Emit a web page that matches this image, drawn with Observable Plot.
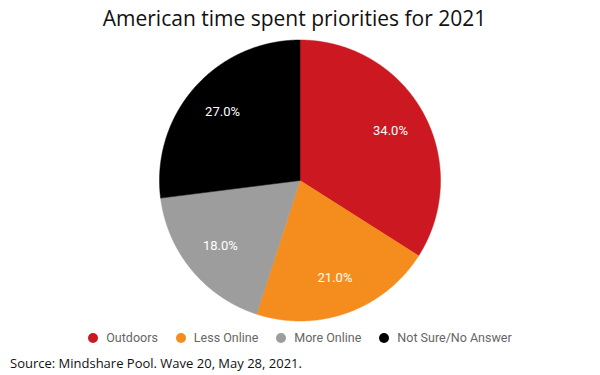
<!DOCTYPE html>
<html>
<head>
<meta charset="utf-8">
<script src="https://cdn.jsdelivr.net/npm/d3@7"></script>
<script src="https://cdn.jsdelivr.net/npm/@observablehq/plot@0.6"></script>
<style>
  html, body { margin: 0; padding: 0; background: #fff; }
  body { width: 600px; height: 375px; position: relative; overflow: hidden; }
  #title { position: absolute; left: 0; top: 8px; width: 589px; text-align: center;
    font-family: "Open Sans", sans-serif; font-size: 21px; line-height: 21px; color: #111; }
  #chart { position: absolute; left: 0; top: 36px; }
  #legend { position: absolute; left: 0; top: 330px; width: 600px; height: 16px; display: flex;
    justify-content: center; align-items: center; font-family: Roboto, sans-serif; font-size: 12.5px;
    line-height: 16px; color: #666; }
  #legend .item { display: flex; align-items: center; margin: 0 9px; }
  #legend .dot { width: 10px; height: 10px; border-radius: 50%; margin-right: 8px; }
  #source { position: absolute; left: 10px; top: 357px; font-family: "Open Sans", sans-serif;
    font-size: 13px; line-height: 13px; color: #111; white-space: nowrap; }
</style>
</head>
<body>
<div id="title">American time spent priorities for 2021</div>
<div id="chart"></div>
<div id="legend"></div>
<div id="source">Source: Mindshare Pool. Wave 20, May 28, 2021.</div>
<script>
const categories = ["Outdoors", "Less Online", "More Online", "Not Sure/No Answer"];
const values = [34.0, 21.0, 18.0, 27.0];
const colors = ["#cc1820", "#f48d1e", "#9d9d9d", "#000000"];

// Build slice polygons (unit-circle coordinates) from the data via d3.pie
const pie = d3.pie().sort(null).value(d => d.value)(categories.map((c, i) => ({category: c, value: values[i]})));
const slicePoints = [];
const labels = [];
for (const s of pie) {
  const cat = s.data.category;
  slicePoints.push({category: cat, x: 0, y: 0});
  const n = Math.max(2, Math.ceil((s.endAngle - s.startAngle) / 0.005));
  for (let k = 0; k <= n; k++) {
    const a = s.startAngle + (s.endAngle - s.startAngle) * k / n;
    slicePoints.push({category: cat, x: Math.sin(a), y: Math.cos(a)});
  }
  slicePoints.push({category: cat, x: 0, y: 0});
  const m = (s.startAngle + s.endAngle) / 2;
  labels.push({category: cat, x: 0.735 * Math.sin(m), y: 0.735 * Math.cos(m), text: s.data.value.toFixed(1) + "%"});
}

const cx = 299.5, cy = 144, r = 140.5;
const chart = Plot.plot({
  width: 600,
  height: 294,
  margin: 0,
  x: {domain: [-1, 1], range: [cx - r, cx + r], axis: null},
  y: {domain: [-1, 1], range: [cy + r, cy - r], axis: null},
  color: {domain: categories, range: colors},
  marks: [
    Plot.line(slicePoints, {x: "x", y: "y", z: "category", fill: "category", stroke: "category", strokeWidth: 0.5, curve: "linear"}),
    Plot.text(labels, {x: "x", y: "y", text: "text", fill: "white", fontSize: 13, fontFamily: "Roboto, sans-serif"})
  ],
  style: {background: "white", overflow: "visible"}
});
document.getElementById("chart").appendChild(chart);

const legend = document.getElementById("legend");
categories.forEach((c, i) => {
  const item = document.createElement("div");
  item.className = "item";
  const dot = document.createElement("span");
  dot.className = "dot";
  dot.style.background = colors[i];
  const label = document.createElement("span");
  label.textContent = c;
  item.appendChild(dot);
  item.appendChild(label);
  legend.appendChild(item);
});
</script>
</body>
</html>
